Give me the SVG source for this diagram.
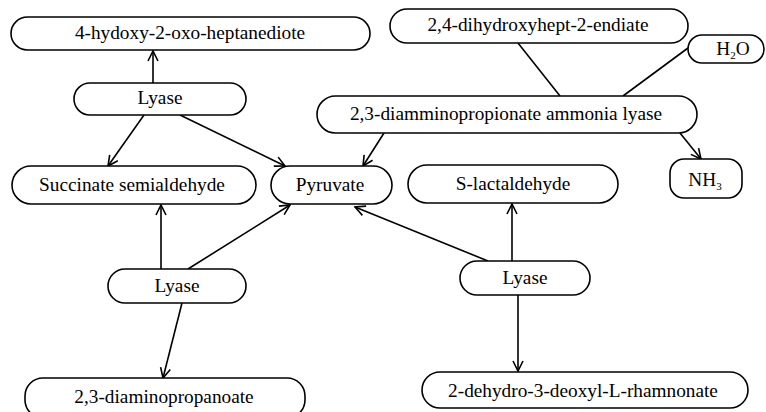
<svg xmlns="http://www.w3.org/2000/svg" width="766" height="412" viewBox="0 0 766 412">
<defs>
<marker id="arr" viewBox="0 0 12 12" refX="11" refY="6" markerWidth="12" markerHeight="12" markerUnits="userSpaceOnUse" orient="auto">
<path d="M1,1 L11,6 L1,11" fill="none" stroke="#000" stroke-width="1.6"/>
</marker>
</defs>
<style>
.n{fill:#fff;stroke:#000;stroke-width:1.6}
text{font-family:'Liberation Serif','Times New Roman',serif;font-size:19.3px;fill:#000;text-anchor:middle}
.s{font-size:11px}
.c line{stroke:#000;stroke-width:1.6}
.a{marker-end:url(#arr)}
</style>
<rect width="766" height="412" fill="#fff"/>
<g class="c">
<line class="a" x1="153" y1="83" x2="153" y2="51"/>
<line class="a" x1="144" y1="115" x2="108" y2="166"/>
<line class="a" x1="180" y1="115" x2="285" y2="166"/>
<line class="a" x1="384" y1="133" x2="363" y2="166"/>
<line x1="518" y1="43" x2="560" y2="96"/>
<line x1="688" y1="48" x2="623" y2="96"/>
<line class="a" x1="680" y1="133" x2="701" y2="159"/>
<line class="a" x1="161" y1="269" x2="161" y2="205"/>
<line class="a" x1="188" y1="269" x2="290" y2="205"/>
<line class="a" x1="182" y1="303" x2="163" y2="378"/>
<line class="a" x1="488" y1="261" x2="355" y2="207"/>
<line class="a" x1="512" y1="261" x2="512" y2="204"/>
<line class="a" x1="518" y1="295" x2="518" y2="371"/>
</g>
<g id="heptanediote"><rect class="n" x="11" y="17" width="359" height="33" rx="16.5"/><text x="190" y="39">4-hydoxy-2-oxo-heptanediote</text></g>
<g id="lyase1"><rect class="n" x="74" y="83" width="172" height="32" rx="16"/><text x="160" y="104">Lyase</text></g>
<g id="succinate"><rect class="n" x="12" y="166" width="244" height="38" rx="19"/><text x="132" y="191">Succinate semialdehyde</text></g>
<g id="pyruvate"><rect class="n" x="271" y="166" width="121" height="38" rx="19"/><text x="330" y="191">Pyruvate</text></g>
<g id="endiate"><rect class="n" x="390" y="9" width="298" height="34" rx="17"/><text x="538" y="31">2,4-dihydroxyhept-2-endiate</text></g>
<g id="h2o"><rect class="n" x="688" y="35" width="76" height="28" rx="14"/><text x="733" y="55">H<tspan class="s" dy="4">2</tspan><tspan dy="-4">O</tspan></text></g>
<g id="ammonialyase"><rect class="n" x="317" y="96" width="380" height="37" rx="18.5"/><text x="506" y="120">2,3-diamminopropionate ammonia lyase</text></g>
<g id="nh3"><rect class="n" x="670" y="159" width="72" height="39" rx="14"/><text x="705" y="186">NH<tspan class="s" dy="4">3</tspan></text></g>
<g id="lactaldehyde"><rect class="n" x="408" y="165" width="210" height="38" rx="19"/><text x="513" y="190">S-lactaldehyde</text></g>
<g id="lyase2"><rect class="n" x="108" y="269" width="138" height="34" rx="17"/><text x="177" y="292">Lyase</text></g>
<g id="lyase3"><rect class="n" x="460" y="261" width="130" height="34" rx="17"/><text x="525" y="284">Lyase</text></g>
<g id="diaminopropanoate"><rect class="n" x="25" y="378" width="280" height="40" rx="18"/><text x="164" y="403">2,3-diaminopropanoate</text></g>
<g id="rhamnonate"><rect class="n" x="422" y="372" width="326" height="36" rx="18"/><text x="583" y="397">2-dehydro-3-deoxyl-L-rhamnonate</text></g>
</svg>
